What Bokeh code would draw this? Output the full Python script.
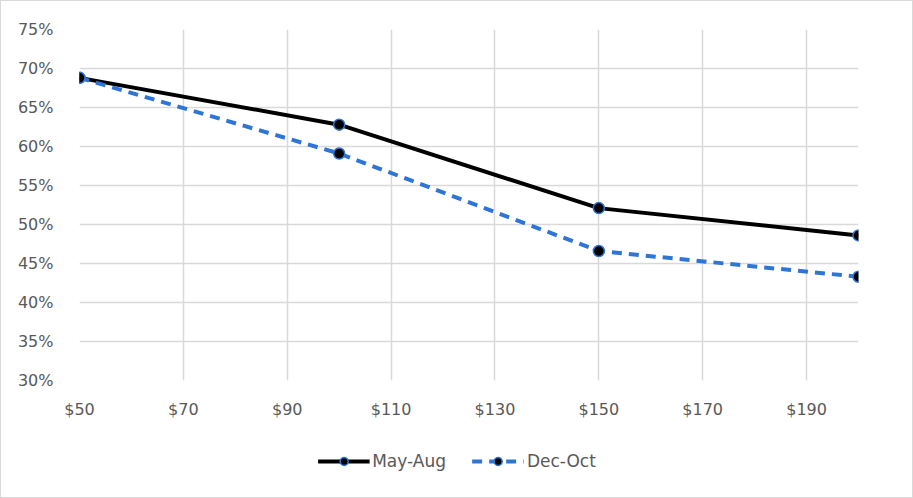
from bokeh.plotting import figure
from bokeh.layouts import column
from bokeh.models import Legend, LegendItem, NumeralTickFormatter, FixedTicker, Range1d
from bokeh.embed import file_html
from bokeh.resources import INLINE

prices = [50, 100, 150, 200]
may_aug = [0.688, 0.628, 0.521, 0.486]
dec_oct = [0.688, 0.591, 0.466, 0.433]
x_ticks = [50, 70, 90, 110, 130, 150, 170, 190]
y_ticks = [0.30, 0.35, 0.40, 0.45, 0.50, 0.55, 0.60, 0.65, 0.70, 0.75]
series_names = ["May-Aug", "Dec-Oct"]

FONT = "DejaVu Sans"
TXT = "#595959"
BLUE = "#2E75D6"

p = figure(frame_width=779, frame_height=351, output_backend="svg", toolbar_location=None,
           x_range=Range1d(50, 200), y_range=Range1d(0.30, 0.75),
           min_border_left=78, min_border_right=54, min_border_top=28, min_border_bottom=61)
p.outline_line_color = None
p.background_fill_color = "white"
p.border_fill_color = "white"

p.xaxis.ticker = FixedTicker(ticks=x_ticks)
p.yaxis.ticker = FixedTicker(ticks=y_ticks)
p.xaxis.formatter = NumeralTickFormatter(format="$0")
p.yaxis.formatter = NumeralTickFormatter(format="0%")
for ax in (p.xaxis, p.yaxis):
    ax.axis_line_color = None
    ax.major_tick_line_color = None
    ax.minor_tick_line_color = None
    ax.major_label_text_font = FONT
    ax.major_label_text_font_size = "16px"
    ax.major_label_text_color = TXT
p.xaxis.major_label_standoff = 13
p.yaxis.major_label_standoff = 20
p.xgrid.ticker = FixedTicker(ticks=x_ticks)
p.ygrid.ticker = FixedTicker(ticks=y_ticks)
p.grid.grid_line_color = "#d9d9d9"
p.grid.grid_line_width = 1.5

line_a = dict(line_color="black", line_width=4)
line_b = dict(line_color=BLUE, line_width=4, line_dash="10 7")
mark = dict(size=11, fill_color="black", line_color=BLUE, line_width=1.5)

p.line(prices, may_aug, **line_a)
p.scatter(prices, may_aug, **mark)
p.line(prices, dec_oct, **line_b)
p.scatter(prices, dec_oct, **mark)

# legend strip below the chart (same series drawn out of view, used only as legend proxies)
q = figure(frame_width=911, frame_height=40, output_backend="svg", toolbar_location=None,
           x_range=Range1d(0, 1), y_range=Range1d(0, 1),
           min_border_left=0, min_border_right=0, min_border_top=0, min_border_bottom=16)
q.axis.visible = False
q.grid.visible = False
q.outline_line_color = None
q.border_fill_color = "white"
q.background_fill_color = "white"
pl1 = q.line(prices, may_aug, **line_a)
ps1 = q.scatter(prices, may_aug, **mark)
pl2 = q.line(prices, dec_oct, **line_b)
ps2 = q.scatter(prices, dec_oct, **mark)

legend = Legend(items=[LegendItem(label=series_names[0], renderers=[pl1, ps1]),
                       LegendItem(label=series_names[1], renderers=[pl2, ps2])],
                orientation="horizontal", location="center",
                label_text_font=FONT, label_text_font_size="17px", label_text_color=TXT,
                glyph_width=52, glyph_height=20, spacing=26, label_standoff=3,
                border_line_color=None, background_fill_alpha=0, margin=0, padding=4)
q.add_layout(legend, "center")

layout = column(p, q, spacing=0, styles={"border": "1px solid #d9d9d9", "background": "white"})

open("out.html", "w").write(file_html(layout, INLINE))
